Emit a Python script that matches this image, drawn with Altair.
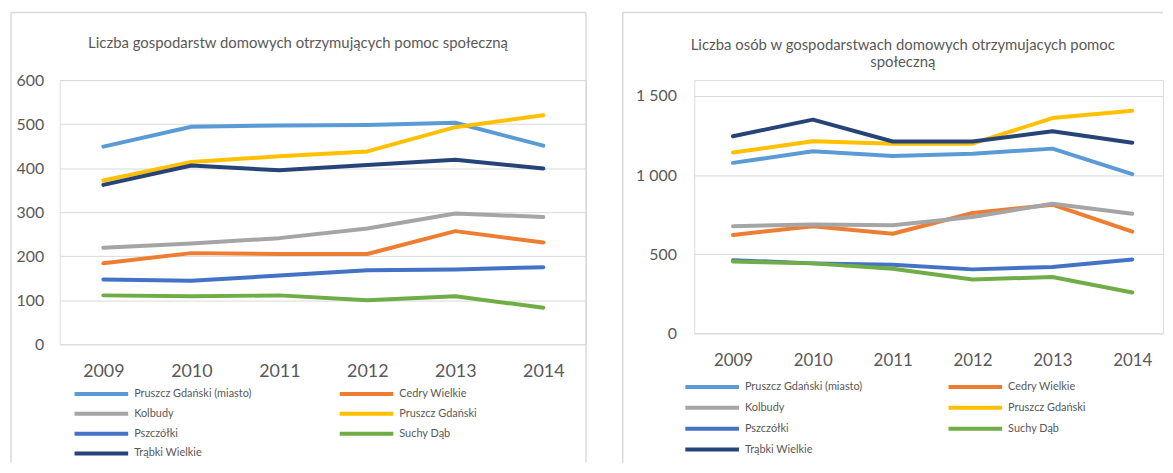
import altair as alt
import pandas as pd

years = [2009, 2010, 2011, 2012, 2013, 2014]
series = ["Pruszcz Gdański (miasto)", "Cedry Wielkie", "Kolbudy", "Pruszcz Gdański",
          "Pszczółki", "Suchy Dąb", "Trąbki Wielkie"]
colors = ["#5B9BD5", "#ED7D31", "#A5A5A5", "#FFC000", "#4472C4", "#70AD47", "#264478"]
# legend is filled column by column: this order gives the two-column layout of the original
legend_order = ["Pruszcz Gdański (miasto)", "Kolbudy", "Pszczółki", "Trąbki Wielkie",
                "Cedry Wielkie", "Pruszcz Gdański", "Suchy Dąb"]
legend_colors = [colors[series.index(s)] for s in legend_order]

# Liczba gospodarstw domowych
hh_pruszcz_miasto = [449, 494, 497, 498, 503, 451]
hh_cedry = [184, 207, 205, 205, 257, 231]
hh_kolbudy = [219, 229, 241, 263, 297, 289]
hh_pruszcz = [372, 414, 427, 438, 493, 520]
hh_pszczolki = [147, 144, 156, 168, 170, 175]
hh_suchy = [111, 109, 111, 100, 109, 83]
hh_trabki = [362, 406, 395, 407, 419, 399]

# Liczba osób
os_pruszcz_miasto = [1077, 1150, 1121, 1135, 1167, 1006]
os_cedry = [621, 677, 629, 760, 813, 642]
os_kolbudy = [677, 688, 683, 735, 819, 756]
os_pruszcz = [1142, 1214, 1198, 1198, 1360, 1406]
os_pszczolki = [462, 442, 433, 404, 419, 467]
os_suchy = [454, 442, 408, 340, 356, 258]
os_trabki = [1245, 1350, 1212, 1212, 1277, 1204]

title_left = ["Liczba gospodarstw domowych otrzymujących pomoc społeczną"]
title_right = ["Liczba osób w gospodarstwach domowych otrzymujacych pomoc", "społeczną"]

FONT = "Lato"
GREY = "#595959"
FRAME = "#D9D9D9"


def long_df(cols):
    rows = []
    for name, vals in zip(series, cols):
        for yr, v in zip(years, vals):
            rows.append({"series": name, "year": yr, "value": v})
    return pd.DataFrame(rows)


def panel(df, width, height, xdom, ymax, yvals, ylab_pad, xfont, xlab_pad, label_expr,
          titles, title_x, title_ys, frame_l, frame_t, frame_r, frame_b,
          leg_x, leg_y, col_pad, row_pad):
    one = pd.DataFrame({"k": [0]})
    yaxis = dict(values=yvals, grid=True, gridColor=FRAME, gridWidth=1, ticks=False,
                 domain=False, labelFontSize=16, labelFont=FONT, labelColor=GREY,
                 labelPadding=ylab_pad, title=None)
    if label_expr:
        yaxis["labelExpr"] = label_expr
    x = alt.X("year:Q", scale=alt.Scale(domain=xdom, nice=False, zero=False),
              axis=alt.Axis(values=years, format="d", grid=False, ticks=False, domain=False,
                            labelFontSize=xfont, labelFont=FONT, labelColor=GREY,
                            labelPadding=xlab_pad, title=None, labelFlush=False))
    y = alt.Y("value:Q", scale=alt.Scale(domain=[0, ymax], nice=False), axis=alt.Axis(**yaxis))
    lines = alt.Chart(df).mark_line(strokeWidth=4, strokeCap="round", strokeJoin="round").encode(
        x=x, y=y,
        color=alt.Color("series:N", sort=legend_order,
                        scale=alt.Scale(domain=legend_order, range=legend_colors),
                        legend=alt.Legend(orient="none", legendX=leg_x, legendY=leg_y,
                                          columns=2, title=None, symbolType="stroke",
                                          symbolStrokeWidth=4, symbolSize=2916,
                                          labelFont=FONT, labelFontSize=11, labelColor=GREY,
                                          labelOffset=4, columnPadding=col_pad,
                                          rowPadding=row_pad, clipHeight=14, labelLimit=400)),
    )
    layers = []
    stroke = dict(color=FRAME, strokeWidth=1.5)
    layers.append(alt.Chart(one).mark_rule(**stroke).encode(
        x=alt.value(frame_l), x2=alt.value(frame_r if frame_r is not None else width),
        y=alt.value(frame_t)))
    layers.append(alt.Chart(one).mark_rule(**stroke).encode(
        x=alt.value(frame_l), y=alt.value(frame_t), y2=alt.value(frame_b)))
    if frame_r is not None:
        layers.append(alt.Chart(one).mark_rule(**stroke).encode(
            x=alt.value(frame_r), y=alt.value(frame_t), y2=alt.value(frame_b)))
    layers.append(lines)
    for t, ty in zip(titles, title_ys):
        layers.append(alt.Chart(one).mark_text(font=FONT, fontSize=15, color=GREY,
                                               align="center", baseline="middle").encode(
            x=alt.value(title_x), y=alt.value(ty), text=alt.value(t)))
    return alt.layer(*layers).properties(width=width, height=height)


left = panel(long_df([hh_pruszcz_miasto, hh_cedry, hh_kolbudy, hh_pruszcz, hh_pszczolki,
                      hh_suchy, hh_trabki]),
             width=530, height=266, xdom=[2008.503, 2014.485], ymax=600,
             yvals=[0, 100, 200, 300, 400, 500, 600], ylab_pad=16, xfont=18, xlab_pad=18,
             label_expr=None, titles=title_left, title_x=240, title_ys=[-37],
             frame_l=-49, frame_t=-68, frame_r=530, frame_b=385,
             leg_x=13, leg_y=309, col_pad=86, row_pad=6)

right = panel(long_df([os_pruszcz_miasto, os_cedry, os_kolbudy, os_pruszcz, os_pszczolki,
                       os_suchy, os_trabki]),
              width=472, height=255, xdom=[2008.515, 2014.385], ymax=1600,
              yvals=[0, 500, 1000, 1500], ylab_pad=18, xfont=17, xlab_pad=19,
              label_expr="replace(format(datum.value, ','), ',', ' ')",
              titles=title_right, title_x=210, title_ys=[-35, -18],
              frame_l=-72, frame_t=-68, frame_r=None, frame_b=385,
              leg_x=-11, leg_y=302, col_pad=84, row_pad=7)

chart = alt.hconcat(left, right, spacing=33).resolve_scale(
    x="independent", y="independent", color="independent"
).resolve_legend(color="independent").properties(
    padding={"left": 1, "top": 1, "right": 0, "bottom": 0}
).configure_view(stroke=None).configure(background="white")

chart.save("out.html", embed_options={"renderer": "svg", "actions": False})
